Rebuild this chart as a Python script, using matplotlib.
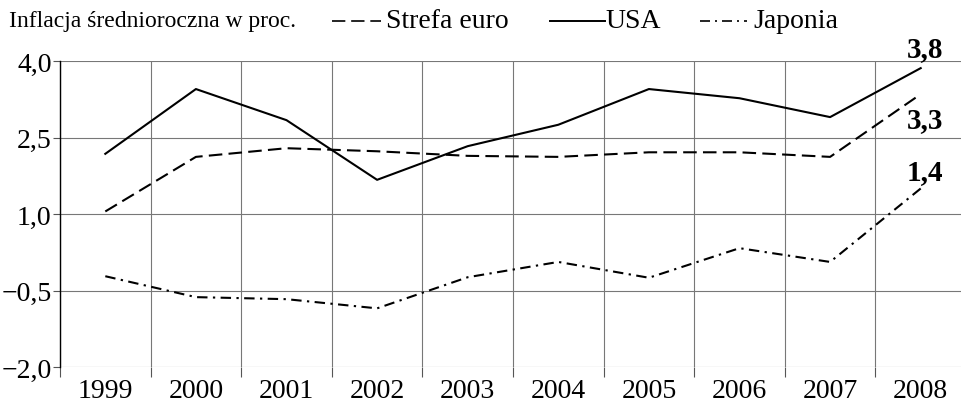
import matplotlib
matplotlib.use("Agg")
import matplotlib.pyplot as plt
from matplotlib.lines import Line2D
import numpy as np

plt.rcParams['font.family'] = ['Liberation Serif', 'DejaVu Serif']

years = ["1999", "2000", "2001", "2002", "2003", "2004", "2005", "2006", "2007", "2008"]
euro = [1.05, 2.12, 2.29, 2.23, 2.14, 2.12, 2.21, 2.21, 2.12, 3.35]
usa = [2.18, 3.45, 2.84, 1.67, 2.33, 2.75, 3.45, 3.27, 2.90, 3.86]
japan = [-0.22, -0.63, -0.67, -0.85, -0.24, 0.06, -0.25, 0.33, 0.06, 1.50]
end_labels = ["3,3", "3,8", "1,4"]
yticks = [-2.0, -0.5, 1.0, 2.5, 4.0]
ytick_labels = ["\u22122,0", "\u22120,5", "1,0", "2,5", "4,0"]
title = "Inflacja średnioroczna w proc."
legend_names = ["Strefa euro", "USA", "Japonia"]

fig = plt.figure(figsize=(9.61, 4.10), dpi=100)
ax = fig.add_axes([60/961, 1-368/410, 906/961, 306/410])
x = np.arange(len(years))

lw = 1.5
ls_euro = (0, (6.5, 3))
ls_jap = (0, (5, 2.6, 1.1, 2.6))
ax.plot(x, euro, color='black', lw=lw, ls=ls_euro)
ax.plot(x, usa, color='black', lw=lw, ls='-')
ax.plot(x, japan, color='black', lw=lw, ls=ls_jap)

ax.set_xlim(-0.5, len(years) - 0.5)
ax.set_ylim(-2.0, 4.0)
ax.set_yticks(yticks)
ax.set_yticklabels(ytick_labels, fontsize=20)
ax.set_xticks(x)
ax.set_xticklabels(years, fontsize=20)
ax.tick_params(axis='x', which='major', length=0, pad=8)
ax.set_xticks(np.arange(-0.5, len(years) - 0.5, 1.0), minor=True)
ax.tick_params(axis='x', which='minor', length=7, color='#555555', width=0.8)
ax.tick_params(axis='y', length=5, width=0.8, color='#555555', pad=1)
ax.grid(axis='y', which='major', color='#777777', lw=0.8)
ax.grid(axis='x', which='minor', color='#777777', lw=0.8)
for s in ['top', 'right', 'bottom']:
    ax.spines[s].set_visible(False)
ax.spines['left'].set_color('black')
ax.spines['left'].set_linewidth(1.0)
ax.set_axisbelow(True)

# end labels
last = len(years) - 1
ax.annotate(end_labels[1], (x[last], usa[last]), xytext=(3, 14), textcoords='offset points',
            ha='center', va='center', fontsize=21, fontweight='bold', annotation_clip=False)
ax.annotate(end_labels[0], (x[last], euro[last]), xytext=(3, -18), textcoords='offset points',
            ha='center', va='center', fontsize=21, fontweight='bold', annotation_clip=False)
ax.annotate(end_labels[2], (x[last], japan[last]), xytext=(3, 12), textcoords='offset points',
            ha='center', va='center', fontsize=21, fontweight='bold', annotation_clip=False)

# title and legend
W, H = 961, 410
ty = 1 - 22/H
fig.text(9/W, ty, title, fontsize=17, ha='left', va='center')
fig.add_artist(Line2D([332/W, 381/W], [ty, ty], color='black', lw=1.2, ls=(0, (8, 3.5))))
fig.text(386/W, ty, legend_names[0], fontsize=20, ha='left', va='center')
fig.add_artist(Line2D([550/W, 605/W], [ty, ty], color='black', lw=1.4, ls='-'))
fig.text(605/W, ty, legend_names[1], fontsize=20, ha='left', va='center')
fig.add_artist(Line2D([700/W, 747/W], [ty, ty], color='black', lw=1.2, ls=(0, (6, 3, 1.2, 3))))
fig.text(753/W, ty, legend_names[2], fontsize=20, ha='left', va='center')

fig.savefig("out.png", dpi=100)
